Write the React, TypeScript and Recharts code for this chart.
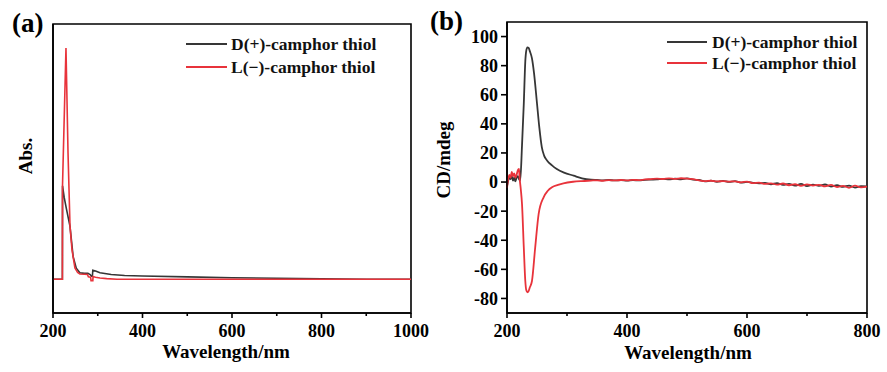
import {
  LineChart,
  Line,
  XAxis,
  YAxis,
  Legend,
  ReferenceArea,
} from "recharts";

// ---- (a) UV-vis absorption (arbitrary units) ----
const uvWavelengthD = [
  200, 221, 221.3, 225, 230, 238, 245, 252, 260, 270, 278, 283, 286, 288, 289,
  295, 305, 330, 360, 400, 500, 600, 700, 800, 900, 1000,
];
const uvAbsD = [
  0.117, 0.117, 0.44, 0.4, 0.36, 0.3, 0.195, 0.155, 0.139, 0.137, 0.137,
  0.133, 0.127, 0.127, 0.148, 0.145, 0.139, 0.133, 0.13, 0.128, 0.125, 0.122,
  0.12, 0.118, 0.117, 0.117,
];
const uvWavelengthL = [
  200, 221, 221.3, 229, 233.6, 238, 242.5, 249, 255, 260, 270, 277, 279, 284,
  285, 289, 289.5, 295, 305, 320, 343, 600, 1000,
];
const uvAbsL = [
  0.117, 0.117, 0.443, 0.917, 0.553, 0.3, 0.218, 0.156, 0.14, 0.135, 0.134,
  0.133, 0.125, 0.124, 0.112, 0.112, 0.126, 0.124, 0.121, 0.119, 0.117, 0.117,
  0.117,
];

// ---- (b) CD spectra (mdeg) ----
const cdWavelengthD = [
  200, 202, 204, 206, 208, 210, 212, 214, 216, 218, 220, 222, 225, 228, 230.5,
  232, 234, 236, 238, 241.6, 245, 250, 254, 258, 262, 267, 275, 283, 295, 311,
  325, 340, 350, 360, 370, 380, 390, 400, 410, 420, 430, 440, 450, 460, 470,
  480, 490, 500, 510, 520, 530, 540, 550, 560, 570, 580, 590, 600, 610, 620,
  630, 640, 650, 660, 670, 680, 690, 700, 710, 720, 730, 740, 750, 760, 770,
  780, 790, 800,
];
const cdValueD = [
  -3, 1, 3, 2, 4, 1, 3, 0.5, 3, 4, 2, 1, 25, 54, 83, 90, 92.6, 92.2, 90, 85,
  75, 54, 37, 24, 18, 14.7, 11.5, 9, 6.5, 4.4, 2.6, 1.6, 1.4, 1.2, 1.4, 1.1,
  1.3, 1.0, 1.4, 1.1, 1.5, 1.7, 1.9, 2.2, 1.8, 2.3, 1.9, 2.5, 1.7, 1.4, 0.4,
  1.0, 0.2, 0.8, 0.1, 0.6, -0.4, 0.1, -0.5, -0.9, -0.6, -1.5, -0.8, -1.9,
  -1.2, -2.5, -1.3, -2.8, -1.8, -2.6, -1.7, -3.1, -2.2, -3.3, -2.4, -3.8,
  -2.9, -3.0,
];
const cdWavelengthL = [
  200, 202, 204, 206, 208, 210, 212, 214, 216, 218, 220, 221, 223, 225, 228,
  230.5, 232, 234, 236, 238, 241.6, 247, 252.7, 261, 268, 275, 285, 294, 310,
  325, 340, 350, 360, 370, 380, 390, 400, 410, 420, 430, 440, 450, 460, 470,
  480, 490, 500, 510, 520, 530, 540, 550, 560, 570, 580, 590, 600, 610, 620,
  630, 640, 650, 660, 670, 680, 690, 700, 710, 720, 730, 740, 750, 760, 770,
  780, 790, 800,
];
const cdValueL = [
  -4, 2, 5, 3, 7, 4, 6, 3, 5, 8, 9, 3, -5, -15, -45, -68, -74, -75.8, -75,
  -72.5, -68, -45, -22, -10.5, -6, -3.6, -2, -0.9, 0.2, 0.7, 1.0, 1.2, 0.9,
  1.3, 1.1, 1.4, 1.2, 1.5, 1.3, 1.8, 2.0, 2.3, 2.1, 2.5, 2.2, 2.6, 2.4, 2.0,
  1.2, 0.6, 0.9, 0.4, 0.7, 0.3, 0.5, -0.2, 0.3, -0.8, -0.4, -1.3, -0.9, -1.8,
  -1.0, -2.2, -1.5, -2.6, -1.6, -2.4, -1.9, -3.0, -2.0, -3.4, -2.6, -3.9,
  -2.5, -3.6, -3.2,
];

// ---- ticks ----
const uvTicks = [200, 300, 400, 500, 600, 700, 800, 900, 1000];
const uvMajorTicks = [200, 400, 600, 800, 1000];
const cdTicks = [200, 300, 400, 500, 600, 700, 800];
const cdMajorTicks = [200, 400, 600, 800];
const cdYTicks = [-80, -60, -40, -20, 0, 20, 40, 60, 80, 100];

const nameD = "D(+)-camphor thiol";
const nameL = "L(\u2212)-camphor thiol";

const BLACK = "#363636";
const RED = "#e8333b";
const FONT = '"Liberation Serif", "Times New Roman", serif';

const toPoints = (xs: number[], ys: number[]) =>
  xs.map((x, i) => ({ x, y: ys[i] }));

const uvD = toPoints(uvWavelengthD, uvAbsD);
const uvL = toPoints(uvWavelengthL, uvAbsL);
const cdD = toPoints(cdWavelengthD, cdValueD);
const cdL = toPoints(cdWavelengthL, cdValueL);

// x tick with a short minor mark and a longer labelled major mark
const XTick = (props: any) => {
  const { x, y, payload, majors } = props;
  const major = majors.includes(payload.value);
  return (
    <g>
      <line
        x1={x}
        y1={y}
        x2={x}
        y2={y + (major ? 5 : 3)}
        stroke="#000"
        strokeWidth={1.6}
      />
      {major && (
        <text
          x={x}
          y={y + 24}
          textAnchor="middle"
          fontFamily={FONT}
          fontWeight="bold"
          fontSize={18}
          fill="#000"
        >
          {payload.value}
        </text>
      )}
    </g>
  );
};

const makeLegend = (rowHeight: number, lineLen: number, gap: number) =>
  (props: any) => (
    <div style={{ fontFamily: FONT, fontWeight: "bold", fontSize: 17.5 }}>
      {props.payload.map((entry: any) => (
        <div
          key={entry.value}
          style={{
            display: "flex",
            alignItems: "center",
            height: rowHeight,
            whiteSpace: "nowrap",
            color: "#111",
          }}
        >
          <span
            style={{
              display: "inline-block",
              width: lineLen,
              height: 2,
              background: entry.color,
              marginRight: gap,
            }}
          />
          {entry.value}
        </div>
      ))}
    </div>
  );

export default function App() {
  return (
    <div
      style={{
        position: "absolute",
        left: 0,
        top: 0,
        width: 887,
        height: 372,
        background: "#fff",
      }}
    >
      {/* (a) absorption */}
      <div style={{ position: "absolute", left: 0, top: 0 }}>
        <LineChart
          width={450}
          height={372}
          margin={{ top: 24, right: 39, left: 33, bottom: 19 }}
        >
          <XAxis
            dataKey="x"
            type="number"
            domain={[200, 1000]}
            ticks={uvTicks}
            interval={0}
            height={40}
            tickSize={0}
            tickMargin={0}
            tickLine={false}
            axisLine={{ stroke: "#000", strokeWidth: 1.6 }}
            tick={(p: any) => <XTick {...p} majors={uvMajorTicks} />}
          />
          <YAxis
            type="number"
            domain={[0, 1]}
            width={20}
            tick={false}
            tickLine={false}
            axisLine={{ stroke: "#000", strokeWidth: 1.6 }}
          />
          <ReferenceArea
            x1={200}
            x2={1000}
            y1={0}
            y2={1}
            fill="none"
            stroke="#000"
            strokeWidth={1.6}
            ifOverflow="visible"
          />
          <Line
            data={uvD}
            dataKey="y"
            name={nameD}
            stroke={BLACK}
            strokeWidth={1.6}
            dot={false}
            activeDot={false}
            type="linear"
            isAnimationActive={false}
          />
          <Line
            data={uvL}
            dataKey="y"
            name={nameL}
            stroke={RED}
            strokeWidth={1.6}
            dot={false}
            activeDot={false}
            type="linear"
            isAnimationActive={false}
          />
          <Legend
            layout="vertical"
            align="center"
            verticalAlign="middle"
            wrapperStyle={{ top: 32.5, left: 186, width: 230, height: 46 }}
            content={makeLegend(23, 41, 4)}
          />
        </LineChart>
      </div>

      {/* (b) circular dichroism */}
      <div style={{ position: "absolute", left: 437, top: 0 }}>
        <LineChart
          width={450}
          height={372}
          margin={{ top: 22, right: 20, left: 10, bottom: 19 }}
        >
          <XAxis
            dataKey="x"
            type="number"
            domain={[200, 800]}
            ticks={cdTicks}
            interval={0}
            height={40}
            tickSize={0}
            tickMargin={0}
            tickLine={false}
            axisLine={{ stroke: "#000", strokeWidth: 1.6 }}
            tick={(p: any) => <XTick {...p} majors={cdMajorTicks} />}
          />
          <YAxis
            type="number"
            domain={[-90, 110]}
            ticks={cdYTicks}
            interval={0}
            width={60}
            tickSize={6}
            tickMargin={3}
            tickLine={{ stroke: "#000", strokeWidth: 1.6 }}
            axisLine={{ stroke: "#000", strokeWidth: 1.6 }}
            tick={{
              fill: "#000",
              fontFamily: FONT,
              fontWeight: "bold",
              fontSize: 18,
            }}
          />
          <ReferenceArea
            x1={200}
            x2={800}
            y1={-90}
            y2={110}
            fill="none"
            stroke="#000"
            strokeWidth={1.6}
            ifOverflow="visible"
          />
          <Line
            data={cdD}
            dataKey="y"
            name={nameD}
            stroke={BLACK}
            strokeWidth={1.8}
            dot={false}
            activeDot={false}
            type="monotone"
            isAnimationActive={false}
          />
          <Line
            data={cdL}
            dataKey="y"
            name={nameL}
            stroke={RED}
            strokeWidth={1.8}
            dot={false}
            activeDot={false}
            type="monotone"
            isAnimationActive={false}
          />
          <Legend
            layout="vertical"
            align="center"
            verticalAlign="middle"
            wrapperStyle={{ top: 31.5, left: 230, width: 200, height: 42 }}
            content={makeLegend(21, 40, 5)}
          />
        </LineChart>
      </div>

      {/* panel letters and axis titles */}
      <svg
        width={887}
        height={372}
        style={{ position: "absolute", left: 0, top: 0, pointerEvents: "none" }}
      >
        <g fontFamily={FONT} fontWeight="bold" fill="#000">
          <text x={12} y={32} fontSize={27}>
            (a)
          </text>
          <text x={430} y={30} fontSize={27}>
            (b)
          </text>
          <text x={226} y={358} fontSize={19} textAnchor="middle">
            Wavelength/nm
          </text>
          <text x={688} y={359} fontSize={19} textAnchor="middle">
            Wavelength/nm
          </text>
          <text
            x={0}
            y={0}
            fontSize={19}
            textAnchor="middle"
            transform="translate(32,156) rotate(-90)"
          >
            Abs.
          </text>
          <text
            x={0}
            y={0}
            fontSize={19}
            textAnchor="middle"
            transform="translate(450,160) rotate(-90)"
          >
            CD/mdeg
          </text>
        </g>
      </svg>
    </div>
  );
}
